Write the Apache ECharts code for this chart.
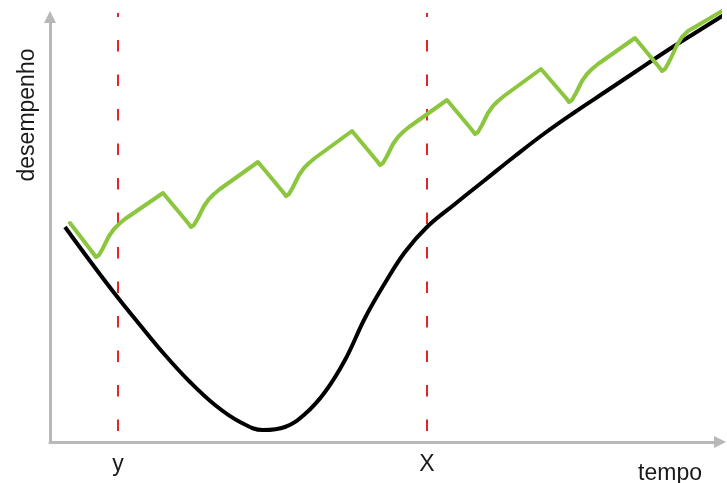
<!DOCTYPE html>
<html>
<head>
<meta charset="utf-8">
<script src="https://cdn.jsdelivr.net/npm/echarts@6/dist/echarts.min.js"></script>
<style>
  html, body { margin: 0; padding: 0; background: #fff; }
  #chart { width: 727px; height: 483px; }
</style>
</head>
<body>
<div id="chart"></div>
<script>
// curva verde (aprendizagem com quedas)
let tempoVerde = [4, 8.6, 9.2, 9.8, 10.6, 11.8, 12.8, 13.8, 15, 22.6,
  27.6, 28.2, 28.8, 29.6, 30.8, 31.8, 32.8, 34, 41.6,
  46.6, 47.2, 47.8, 48.6, 49.8, 50.8, 51.8, 53, 60.4,
  65.4, 66, 66.6, 67.4, 68.6, 69.6, 70.6, 71.8, 79.4,
  84.4, 85, 85.6, 86.4, 87.6, 88.6, 89.6, 90.8, 98.2,
  103.2, 103.8, 104.4, 105.2, 106.4, 107.4, 108.4, 109.6, 117,
  121.8, 122.4, 123, 123.8, 125.4, 126.4, 127.6, 129, 135.4];
let desempVerde = [43.8, 37.8, 37, 37.4, 38.8, 41.2, 42.6, 43.6, 44.6, 49.8,
  43.8, 43, 43.4, 44.8, 47.2, 48.6, 49.6, 50.6, 56,
  50, 49.2, 49.6, 51, 53.4, 54.8, 55.8, 56.8, 62.2,
  56.2, 55.4, 55.8, 57.2, 59.6, 61, 62, 63, 68.4,
  62.4, 61.6, 62, 63.4, 65.8, 67.2, 68.2, 69.2, 74.6,
  68.8, 68, 68.4, 69.8, 72.2, 73.6, 74.6, 75.6, 80.8,
  75, 74.2, 74.6, 76, 79.4, 81, 82.2, 83, 86.8];

// curva preta
let tempoPreto = [3, 8, 13, 18, 23, 28, 33, 38, 42.6, 47, 51, 55, 59, 63, 67, 71, 75.4,
  81, 87, 93, 99, 105, 111, 117, 123, 129, 135.4];
let desempPreto = [43, 36.2, 29.6, 23.4, 17.4, 12, 7.4, 4, 2.4, 3, 5.6, 10, 16.4, 24.8, 31.8, 38, 43,
  47.6, 52.4, 57.2, 61.8, 66, 70, 74, 78, 81.8, 85.8];

// linhas verticais
let marcas = [13.6, 75.4];
let marcasTxt = ["y", "X"];
let marcaBase = 2.2;
let marcaTopo = 85.8;

let d = document;
window.onload = (e) => {
  let chart = echarts.init(d.getElementById("chart"));

  let verde = tempoVerde.map((t, i) => [t, desempVerde[i]]);
  let preto = tempoPreto.map((t, i) => [t, desempPreto[i]]);

  let fonte = "'Liberation Sans', Arial, sans-serif";

  let tracejadas = marcas.map((m) => ({
    type: "line", data: [[m, marcaBase], [m, marcaTopo]], showSymbol: false, clip: false, silent: true,
    lineStyle: { color: "#e3242b", width: 2, type: [11.5, 23] }
  }));

  chart.setOption({
    animation: false,
    grid: { left: 50, right: 7, top: 17, bottom: 41 },
    xAxis: {
      type: "value", min: 0, max: 134,
      axisLine: { lineStyle: { color: "#b8b8b8", width: 3 }, symbol: ["none", "triangle"], symbolSize: [12, 12] },
      axisTick: { show: false },
      splitLine: { show: false },
      axisLabel: {
        customValues: marcas,
        formatter: (v) => marcasTxt[marcas.indexOf(v)],
        fontSize: 23, color: "#1a1a1a", fontFamily: fonte, margin: 11
      }
    },
    yAxis: {
      type: "value", min: 0, max: 85,
      axisLine: { show: true, lineStyle: { color: "#b8b8b8", width: 3 }, symbol: ["none", "triangle"], symbolSize: [12, 12] },
      axisTick: { show: false },
      splitLine: { show: false },
      axisLabel: { show: false }
    },
    graphic: [
      { type: "text", x: 28, y: 115, rotation: Math.PI / 2,
        style: { text: "desempenho", fill: "#1a1a1a", font: "23px " + fonte, align: "center", verticalAlign: "middle" } },
      { type: "text", x: 670, y: 474,
        style: { text: "tempo", fill: "#1a1a1a", font: "23px " + fonte, align: "center", verticalAlign: "middle" } }
    ],
    series: tracejadas.concat([
      {
        type: "line", data: preto, smooth: 0.4, showSymbol: false, clip: false, silent: true,
        lineStyle: { color: "#000", width: 4 }
      },
      {
        type: "line", data: verde, smooth: false, showSymbol: false, clip: false, silent: true,
        lineStyle: { color: "#8cc63f", width: 4, join: "round", cap: "round" }
      }
    ])
  });
};
</script>
</body>
</html>
